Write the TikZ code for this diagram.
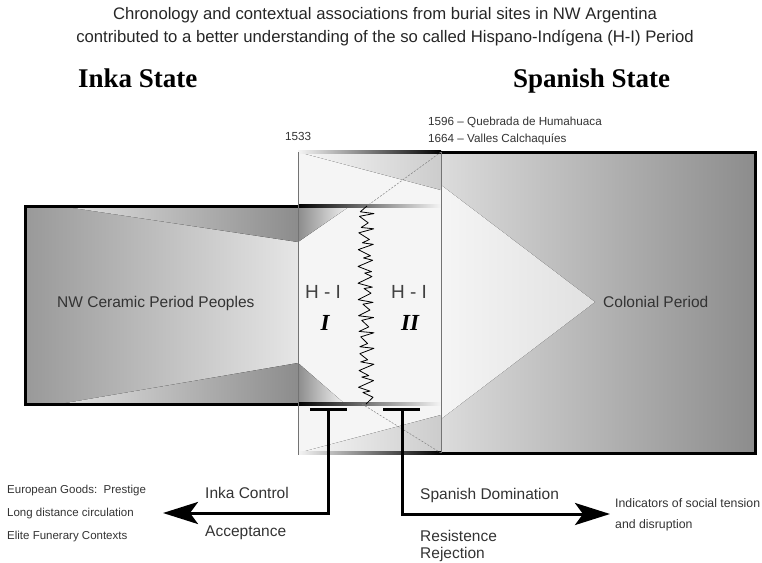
\documentclass[tikz,border=0pt]{standalone}
\usepackage{fontspec}
\setmainfont{Liberation Sans}
\newfontfamily\statefont{Liberation Serif}
\usetikzlibrary{arrows.meta}
\tikzset{
  plain/.style={inner sep=0pt, anchor=west, text=black!80},
  bigtext/.style={plain, font=\fontsize{15.5}{18}\selectfont},
  smalltext/.style={plain, font=\fontsize{11.5}{14}\selectfont},
  notetext/.style={plain, font=\fontsize{12.3}{14}\selectfont},
  datetext/.style={plain, font=\fontsize{11.7}{13}\selectfont},
  titletext/.style={inner sep=0pt, text=black!85, font=\fontsize{16.7}{19}\selectfont},
  statetext/.style={inner sep=0pt, anchor=base west, font=\statefont\bfseries\fontsize{27}{30}\selectfont},
  hitext/.style={inner sep=0pt, text=black!75, font=\fontsize{19}{22}\selectfont},
  romantext/.style={inner sep=0pt, font=\statefont\bfseries\itshape\fontsize{23}{25}\selectfont},
  frame/.style={line width=3pt},
  thinline/.style={black!55, line width=0.8pt},
  flowarrow/.style={line width=3pt, -{Stealth[length=35pt,width=22pt,inset=8pt]}},
}
\begin{document}
\begin{tikzpicture}[x=1pt,y=-1pt]
\useasboundingbox (0,0) rectangle (762,562);

\node[titletext] (title1) at (385,15) {Chronology and contextual associations from burial sites in NW Argentina};
\node[titletext] (title2) at (385,38) {contributed to a better understanding of the so called Hispano-Indígena (H-I) Period};
\node[statetext] (inka) at (78,87) {Inka State};
\node[statetext] (spain) at (513,87) {Spanish State};

% H-I band
\fill[black!4] (298,152) rectangle (441,453);
\fill[left color=black!3, right color=black!20] (298,152) -- (441,152) -- (441,190) -- cycle;
\fill[left color=black!3, right color=black!20] (298,453) -- (441,453) -- (441,415) -- cycle;

% colonial block
\fill[left color=black!14, right color=black!45] (441,152) rectangle (755,453);
\fill[left color=black!4, right color=black!12] (441,185) -- (595,302) -- (441,419) -- cycle;

% ceramic block
\fill[left color=black!40, right color=black!10] (25,206) rectangle (298,404);
\fill[left color=black!12, right color=black!45] (60,206) -- (298,206) -- (298,242) -- cycle;
\fill[left color=black!45, right color=black!4] (298,206) -- (350,206) -- (298,242) -- cycle;
\fill[left color=black!12, right color=black!45] (60,404) -- (298,404) -- (298,363) -- cycle;
\fill[left color=black!45, right color=black!4] (298,404) -- (345,404) -- (298,363) -- cycle;

\draw[frame] (298,206) -- (25,206) -- (25,404) -- (298,404);
\draw[frame] (441,152) -- (755,152) -- (755,453) -- (441,453);
\fill[left color=black, right color=black!4] (298,204.5) rectangle (441,207.5);
\fill[left color=black, right color=black!4] (298,402.5) rectangle (441,405.5);
\fill[left color=black!4, right color=black] (298,150.5) rectangle (441,153.5);
\fill[left color=black!4, right color=black] (298,451.5) rectangle (441,454.5);

\draw[thinline] (298,152) -- (298,455);
\draw[thinline] (441,152) -- (441,453);
\draw[black!50, line width=0.5pt, dash pattern=on 2pt off 1.5pt] (441,152) -- (367,206);
\draw[black!50, line width=0.5pt, dash pattern=on 2pt off 1.5pt] (362,404) -- (441,453);

% jagged boundary between H-I I and H-I II
\draw[line width=0.8pt, line join=round] (367,206)
  \foreach \k in {1,...,48} { -- ({366+(1-2*mod(\k,2))*(1+7*abs(sin(\k*137.5)))},{206+4*\k+1.8*sin(\k*97)}) } -- (366,404);

\node[hitext] (hione) at (323,292) {H - I};
\node[hitext] (hitwo) at (409,292) {H - I};
\node[romantext] (one) at (325,323) {I};
\node[romantext] (two) at (410,323) {II};

\node[datetext] (y1533) at (285,136) {1533};
\node[datetext] (y1596) at (428,122) {1596 \textendash\ Quebrada de Humahuaca};
\node[datetext] (y1664) at (428,139) {1664 \textendash\ Valles Calchaquíes};

\node[bigtext] (ceramic) at (57,303) {NW Ceramic Period Peoples};
\node[bigtext] (colonial) at (603,302) {Colonial Period};

\coordinate (inkabar) at (328,409);
\coordinate (spainbar) at (402,409);
\coordinate (inkatip) at (163,513);
\coordinate (spaintip) at (610,514);
\draw[frame] ([xshift=-18pt]inkabar) -- ([xshift=19pt]inkabar);
\draw[frame] ([xshift=-19pt]spainbar) -- ([xshift=18pt]spainbar);
\draw[flowarrow] (inkabar) |- (inkatip);
\draw[flowarrow] (spainbar) |- (spaintip);

\node[bigtext] (inkacontrol) at (205,493) {Inka Control};
\node[bigtext] (acceptance) at (205,533) {Acceptance};
\node[bigtext] (spanishdom) at (420,495) {Spanish Domination};
\node[bigtext] (resist) at (420,536) {Resistence};
\node[bigtext] (reject) at (420,554) {Rejection};

\foreach \t [count=\k] in {European Goods:~~Prestige, Long distance circulation, Elite Funerary Contexts}
  \node[smalltext] (goods\k) at (7,{468+23*\k}) {\t};
\node[notetext] (tension) at (615,503) {Indicators of social tension};
\node[notetext] (disrupt) at (615,525) {and disruption};
\end{tikzpicture}
\end{document}
